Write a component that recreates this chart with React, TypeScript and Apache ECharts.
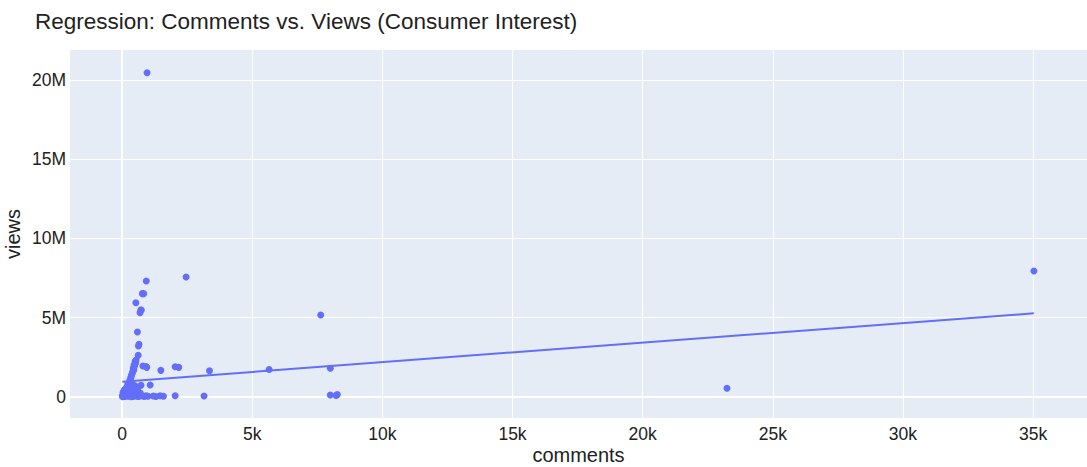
import React, { useEffect, useRef } from "react";
import * as echarts from "echarts";

// comments (x) and views (y)
const comments: number[] = [
  960, 2460, 930, 780, 830, 530, 720, 740, 690, 590, 650, 630, 620,
  540, 500, 460, 430, 410, 370, 330, 310, 280, 240, 180, 120,
  520, 480, 450, 390, 350, 300, 260, 220, 200, 150,
  800, 950, 920, 1490, 2040, 2180, 3360, 5650, 7630, 8000,
  8000, 8220, 8270, 730, 1080,
  770, 930, 1200, 1460, 1590, 2040, 3150,
  23240, 35030,
  20, 50, 80, 100, 130, 160, 190, 210, 230, 250, 270, 300, 320, 340, 360,
  380, 400, 420, 450, 480, 500, 520, 560, 600, 640, 680, 700, 850, 1000,
  1300, 10, 60, 110, 140, 170, 40, 90, 260, 350, 550, 600, 440, 290, 220, 380,
];
const views: number[] = [
  20460000, 7570000, 7320000, 6520000, 6520000, 5950000, 5490000, 5490000, 5320000, 4100000, 3320000, 3220000, 2630000,
  2330000, 2230000, 2020000, 1810000, 1600000, 1390000, 1180000, 970000, 760000, 550000, 330000, 130000,
  2150000, 1950000, 1700000, 1500000, 1300000, 1050000, 850000, 650000, 450000, 250000,
  1960000, 1870000, 1920000, 1680000, 1910000, 1870000, 1660000, 1740000, 5170000, 1810000,
  130000, 100000, 150000, 740000, 760000,
  80000, 80000, 60000, 80000, 50000, 80000, 60000,
  550000, 7950000,
  20000, 50000, 100000, 30000, 200000, 80000, 150000, 300000, 50000, 400000, 120000, 250000, 500000, 80000, 350000,
  600000, 150000, 40000, 300000, 100000, 700000, 200000, 50000, 120000, 30000, 80000, 250000, 40000, 50000,
  30000, 80000, 200000, 350000, 500000, 600000, 300000, 450000, 200000, 20000, 350000, 500000, 550000, 650000, 800000, 900000,
];
// regression (OLS trend) line endpoints
const trendComments: number[] = [10, 35030];
const trendViews: number[] = [965000, 5280000];

// axis ranges and tick labels
const xRange: number[] = [-2000, 37070];
const yRange: number[] = [-1325000, 21890000];
const xTickValues: number[] = [0, 5000, 10000, 15000, 20000, 25000, 30000, 35000];
const xTickLabels: string[] = ["0", "5k", "10k", "15k", "20k", "25k", "30k", "35k"];
const yTickValues: number[] = [0, 5000000, 10000000, 15000000, 20000000];
const yTickLabels: string[] = ["0", "5M", "10M", "15M", "20M"];

const BLUE = "#636efa";
const TXT = "#222222";
const FONT = "Liberation Sans, Arial, Helvetica, sans-serif";

export default function App() {
  const ref = useRef<HTMLDivElement>(null);
  useEffect(() => {
    if (!ref.current) return;
    const chart = echarts.init(ref.current, null, { renderer: "svg" });
    const pts = comments.map((c, i) => [c, views[i]]);
    const trend = trendComments.map((c, i) => [c, trendViews[i]]);
    const fmt = (vals: number[], labels: string[]) => (v: number) => {
      const i = vals.findIndex((t) => Math.abs(t - v) < 1e-3);
      return i >= 0 ? labels[i] : "";
    };
    chart.setOption({
      animation: false,
      backgroundColor: "#ffffff",
      textStyle: { fontFamily: FONT },
      title: {
        text: "Regression: Comments vs. Views (Consumer Interest)",
        left: 30,
        top: 5,
        textStyle: { fontFamily: FONT, fontSize: 22.5, fontWeight: "normal", color: TXT },
      },
      grid: {
        left: 70,
        right: 0,
        top: 50,
        bottom: 49,
        containLabel: false,
        outerBoundsMode: "none",
        show: true,
        backgroundColor: "#e5ecf6",
        borderWidth: 0,
      },
      xAxis: {
        type: "value",
        min: xRange[0],
        max: xRange[1],
        name: "comments",
        nameLocation: "middle",
        nameGap: 27,
        nameMoveOverlap: false,
        nameTextStyle: { fontFamily: FONT, fontSize: 20, color: TXT, lineHeight: 20 },
        axisLine: { show: false },
        axisTick: { show: false, customValues: xTickValues },
        axisLabel: {
          customValues: xTickValues,
          formatter: fmt(xTickValues, xTickLabels),
          fontFamily: FONT,
          fontSize: 17.5,
          color: TXT,
          margin: 7,
        },
        splitLine: { show: true, lineStyle: { color: "#ffffff", width: 1 } },
      },
      yAxis: {
        type: "value",
        min: yRange[0],
        max: yRange[1],
        name: "views",
        nameLocation: "middle",
        nameGap: 47,
        nameMoveOverlap: false,
        nameTextStyle: { fontFamily: FONT, fontSize: 20, color: TXT, lineHeight: 20 },
        axisLine: { show: false },
        axisTick: { show: false, customValues: yTickValues },
        axisLabel: {
          customValues: yTickValues,
          formatter: fmt(yTickValues, yTickLabels),
          fontFamily: FONT,
          fontSize: 17.5,
          color: TXT,
          margin: 4,
        },
        splitLine: { show: true, lineStyle: { color: "#ffffff", width: 1 } },
      },
      series: [
        {
          type: "scatter",
          data: pts,
          symbolSize: 7,
          itemStyle: { color: BLUE, opacity: 1 },
          markLine: {
            silent: true,
            symbol: "none",
            label: { show: false },
            lineStyle: { color: "#ffffff", width: 2, type: "solid" },
            data: [{ xAxis: 0 }, { yAxis: 0 }],
            z: 1,
          },
          z: 3,
        },
        {
          type: "line",
          data: trend,
          showSymbol: false,
          symbol: "none",
          lineStyle: { color: BLUE, width: 2 },
          z: 4,
        },
      ],
    });
    return () => chart.dispose();
  }, []);
  return (
    <div
      ref={ref}
      style={{ position: "fixed", left: 0, top: 0, width: 1087, height: 467 }}
    />
  );
}
